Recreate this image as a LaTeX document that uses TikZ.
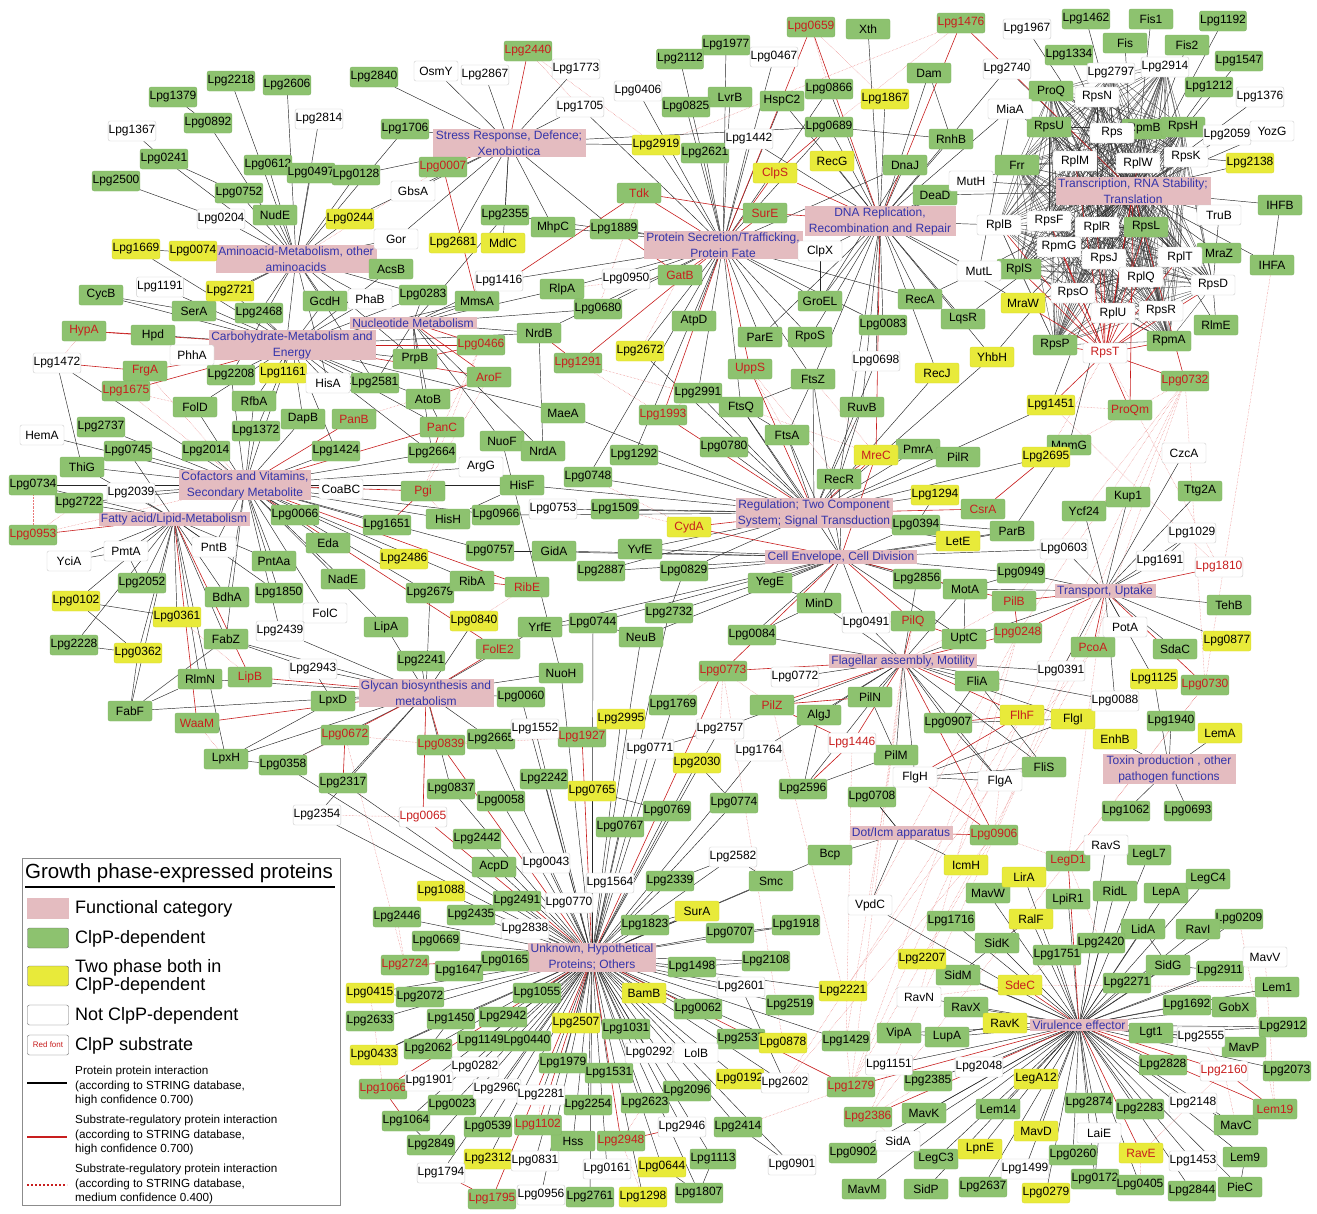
\documentclass[tikz,border=0pt]{standalone}
\usepackage{fontspec}
\setmainfont{Liberation Sans}
\usetikzlibrary{backgrounds}
\definecolor{cgreen}{RGB}{141,194,111}
\definecolor{cgreenb}{RGB}{128,180,100}
\definecolor{cyellow}{RGB}{232,234,58}
\definecolor{cyellowb}{RGB}{215,218,50}
\definecolor{cgray}{RGB}{205,205,205}
\definecolor{cpink}{RGB}{228,188,192}
\definecolor{cblue}{RGB}{52,52,170}
\definecolor{cred}{RGB}{200,30,30}
\definecolor{cpinkline}{RGB}{232,120,120}
\tikzset{
 nbase/.style={rounded corners=2pt, minimum width=44pt, minimum height=20pt, inner xsep=0.5pt, inner ysep=1pt, font=\fontsize{12}{13}\selectfont},
 gn/.style={nbase, fill=cgreen, draw=cgreenb},
 gr/.style={gn, text=cred},
 yn/.style={nbase, fill=cyellow, draw=cyellowb},
 yr/.style={yn, text=cred},
 wn/.style={nbase, fill=white, draw=cgray},
 wr/.style={wn, text=cred},
 cat/.style={fill=cpink, draw=cpink, text=cblue, align=center, font=\fontsize{12}{16}\selectfont, inner xsep=2pt, inner ysep=1pt},
 bl/.style={draw=black!85, line width=0.45pt},
 blt/.style={draw=black!80, line width=0.3pt},
 rd/.style={draw=cred, line width=0.6pt},
 pk/.style={draw=cpinkline, line width=0.45pt, densely dotted},
 legtxt/.style={anchor=west, font=\fontsize{18}{18}\selectfont, inner sep=0pt},
 legsm/.style={anchor=west, font=\fontsize{11.7}{14.5}\selectfont, inner sep=0pt, align=left},
 swatch/.style={rounded corners=2pt, minimum width=41pt, minimum height=20pt, inner sep=0pt, draw=black!60},
}
\begin{document}
\begin{tikzpicture}[x=1pt,y=-1pt]
\useasboundingbox (0,0) rectangle (1317,1213);
% ---------- categories ----------
\node[cat, minimum width=152pt] (catStress) at (509,143) {Stress Response, Defence;\\ Xenobiotica};
\node[cat, minimum width=152pt] (catAmino) at (296,259) {Aminoacid-Metabolism, other\\ aminoacids};
\node[cat, minimum width=122pt] (catNucl) at (413,323) {Nucleotide Metabolism};
\node[cat, minimum width=158pt] (catCarb) at (292,345) {Carbohydrate-Metabolism and\\ Energy};
\node[cat, minimum width=126pt] (catCof) at (245,485) {Cofactors and Vitamins,\\ Secondary Metabolite};
\node[cat, minimum width=146pt] (catFatty) at (174,519) {Fatty acid/Lipid-Metabolism};
\node[cat, minimum width=130pt] (catGlycan) at (426,693) {Glycan biosynthesis and\\ metabolism};
\node[cat, minimum width=152pt] (catProt) at (723,245) {Protein Secretion/Trafficking,\\ Protein Fate};
\node[cat, minimum width=150pt] (catDNA) at (880,221) {DNA Replication,\\ Recombination and Repair};
\node[cat, minimum width=150pt] (catTrans) at (1133,191) {Transcription, RNA Stability;\\ Translation};
\node[cat, minimum width=156pt] (catReg) at (814,513) {Regulation; Two Component\\ System; Signal Transduction};
\node[cat, minimum width=149pt] (catCell) at (841,557) {Cell Envelope, Cell Division};
\node[cat, minimum width=99pt] (catTransp) at (1105,591) {Transport, Uptake};
\node[cat, minimum width=145pt] (catFlag) at (903,661) {Flagellar assembly, Motility};
\node[cat, minimum width=132pt] (catToxin) at (1169,769) {Toxin production , other\\ pathogen functions};
\node[cat, minimum width=99pt] (catDot) at (901,833) {Dot/Icm apparatus};
\node[cat, minimum width=125pt] (catUnk) at (592,957) {Unknown, Hypothetical\\ Proteins; Others};
\node[cat, minimum width=96pt] (catVir) at (1079,1025) {Virulence effector};
% ---------- green, black text ----------
\foreach \n/\x/\y in {Lpg1379/173/97, Lpg2218/231/81, Lpg2606/287/85, Lpg2840/374/77, Xth/868/29, Lpg1462/1086/19, Fis1/1151/19, Lpg1192/1223/21, Lpg1334/1069/55, Fis/1125/43, Fis2/1187/45, Lpg1547/1239/61, Lpg1977/726/45, Lpg2112/680/59, LvrB/730/97, HspC2/782/101, Lpg0866/829/89, Dam/929/73, ProQ/1051/91, Lpg1212/1209/87, Lpg0892/208/123, Lpg0825/686/107, Lpg1706/405/129, Lpg2621/705/153, Lpg0689/829/127, RpsU/1049/127, RpmB/1144/129, RpsH/1183/127, Lpg0241/164/159, Lpg0612/268/165, Lpg0497/311/173, Lpg0128/356/175, RnhB/951/139, Frr/1017/165, Lpg2500/116/181, Lpg0752/239/193, DnaJ/905/165, DeaD/935/195, NudE/275/215, Lpg2355/505/215, RpsL/1146/227, IHFB/1280/205, MhpC/553/227, Lpg1889/614/229, MraZ/1219/253, IHFA/1272/265, RplS/1019/269, AcsB/391/269, CycB/101/295, SerA/194/311, Lpg0283/423/295, MmsA/477/301, RlpA/562/289, RecA/920/299, GroEL/820/301, Hpd/153/335, Lpg2468/259/313, GcdH/325/301, Lpg0680/598/309, AtpD/694/321, Lpg0083/883/325, LqsR/963/319, RlmE/1216/325, NrdB/539/333, ParE/760/337, RpoS/810/337, RpsP/1055/345, RpmA/1169/341, Lpg2208/231/375, Lpg2581/375/383, PrpB/415/359, FtsZ/813/379, FolD/195/407, RfbA/254/401, AtoB/428/399, Lpg2991/698/393, FtsQ/741/407, RuvB/862/407, Lpg2737/101/427, Lpg1372/256/431, DapB/303/419, MaeA/563/413, FtsA/787/435, Lpg0780/724/447, MnmG/1069/445, ThiG/82/467, Lpg0745/128/451, Lpg2014/206/451, Lpg1424/336/451, Lpg2664/432/453, NuoF/502/441, NrdA/543/451, Lpg1292/634/455, PmrA/918/449, PilR/958/457, Lpg0734/33/485, HisF/522/485, Lpg0748/588/477, RecR/839/479, Lpg2722/79/503, Lpg0966/496/515, Lpg1509/615/509, Kup1/1128/497, Ttg2A/1200/491, Ycf24/1084/511, Lpg0066/295/515, HisH/448/519, Lpg1651/387/525, Lpg0394/916/525, Eda/328/543, Lpg0757/490/551, GidA/554/551, YvfE/640/549, ParB/1012/531, Lpg2052/142/583, PntAa/274/561, NadE/343/579, Lpg2679/430/593, RibA/472/581, Lpg2887/601/571, Lpg0829/684/571, YegE/770/583, Lpg2856/917/579, MotA/965/589, Lpg0949/1021/573, TehB/1229/605, BdhA/227/597, Lpg1850/279/593, LipA/386/627, YrfE/540/627, Lpg0744/593/623, Lpg2732/669/613, MinD/819/603, Lpg2228/74/645, FabZ/226/639, NeuB/641/637, Lpg0084/752/635, UptC/964/639, SdaC/1175/649, Lpg2241/421/661, RlmN/200/679, NuoH/561/673, FliA/977/681, FabF/130/711, LpxD/333/701, Lpg0060/521/697, Lpg1769/673/705, AlgJ/819/715, PilN/870/697, Lpg0907/948/723, Lpg1940/1171/721, Lpg2665/491/739, PilM/896/755, LpxH/226/759, Lpg0358/283/765, FliS/1044/767, Lpg2317/343/783, Lpg0837/451/789, Lpg2242/544/779, Lpg2596/803/789, Lpg0708/872/797, Lpg0058/501/801, Lpg0769/667/811, Lpg0774/734/803, Lpg0767/620/827, Lpg1062/1126/811, Lpg0693/1188/811, Lpg2442/477/839, Bcp/830/855, AcpD/494/867, LegL7/1149/855, Lpg2339/670/881, Smc/771/881, MavW/988/893, RidL/1115/891, LepA/1166/893, LegC4/1208/879, Lpg2491/517/901, LpiR1/1068/899, Lpg2446/397/917, Lpg2435/471/915, Lpg1823/645/925, Lpg1918/796/925, Lpg1716/951/921, Lpg0209/1239/919, Lpg0669/436/941, Lpg0707/730/933, LidA/1143/929, RavI/1198/929, Lpg0165/505/961, Lpg2420/1101/943, SidK/997/943, Lpg1647/459/971, Lpg1498/692/967, Lpg2108/766/961, Lpg1751/1057/955, SidM/958/975, SidG/1168/965, Lpg2911/1220/971, Lpg2271/1127/983, Lpg2072/420/997, Lpg1055/537/993, Lem1/1277/987, Lpg0062/698/1009, Lpg2519/790/1005, RavX/966/1007, Lpg1692/1187/1005, GobX/1234/1007, Lpg2633/370/1021, Lpg1450/451/1019, Lpg2942/503/1017, Lpg1031/626/1029, Lpg2912/1283/1027, VipA/899/1033, LupA/947/1037, Lgt1/1151/1033, Lpg2062/428/1049, Lpg1149/481/1041, Lpg0440/527/1041, Lpg2537/741/1039, Lpg1429/846/1041, MavP/1244/1047, Lpg1979/563/1063, Lpg2828/1163/1065, Lpg2073/1287/1071, Lpg1531/609/1073, Lpg2385/928/1081, Lpg2096/687/1091, Lpg2874/1089/1103, Lpg2283/1140/1109, Lpg0023/452/1105, Lpg2254/588/1105, Lpg2623/645/1103, Lem14/998/1109, Lpg1064/406/1121, Lpg0539/488/1127, Lpg2414/738/1127, MavK/924/1113, MavC/1236/1125, Lpg2849/431/1145, Hss/573/1141, Lpg1113/713/1159, Lpg0902/853/1153, LegC3/936/1159, Lpg0260/1073/1155, Lem9/1245/1157, Lpg0172/1095/1179, Lpg0405/1140/1185, MavM/864/1189, SidP/926/1189, Lpg2637/983/1187, Lpg2844/1192/1191, PieC/1240/1187, Lpg2761/590/1197, Lpg1807/699/1193}
  \node[gn] (\n) at (\x,\y) {\n};
% ---------- green, red text ----------
\foreach \n/\x/\y in {Lpg2440/528/51, Lpg0659/811/27, Lpg1476/961/23, Lpg0007/443/167, Tdk/639/193, SurE/765/213, GatB/680/275, HypA/84/331, Lpg0466/481/345, FrgA/145/371, Lpg1675/126/391, AroF/489/377, Lpg1291/578/363, UppS/750/369, ProQm/1130/410, Lpg0732/1185/381, PanB/354/419, PanC/442/427, Lpg1993/663/415, Pgi/423/491, CsrA/983/509, Lpg0953/33/535, RibE/527/587, PilB/1014/601, PilQ/913/621, Lpg0248/1018/633, PcoA/1093/647, FolE2/498/649, LipB/250/677, Lpg0773/723/671, Lpg0730/1205/685, PilZ/772/705, WaaM/197/723, Lpg0672/345/735, Lpg0839/441/745, Lpg1927/582/737, Lpg0906/994/835, LegD1/1068/861, Lpg2724/405/965, Lpg1279/851/1087, Lpg1066/383/1089, Lem19/1275/1109, Lpg1102/538/1125, Lpg2386/868/1117, Lpg2948/621/1141, Lpg1795/492/1199}
  \node[gr] (\n) at (\x,\y) {\n};
% ---------- yellow ----------
\foreach \n/\x/\y in {Lpg1867/885/99, Lpg2919/656/145, RecG/832/161, Lpg2138/1250/163, Lpg0244/350/219, Lpg1669/136/249, Lpg0074/193/251, Lpg2681/453/243, MdlC/503/243, Lpg2721/230/291, MraW/1023/303, Lpg1161/283/373, Lpg2672/640/351, RecJ/937/373, YhbH/992/357, Lpg1451/1051/405, Lpg2695/1046/457, Lpg1294/935/495, Lpg2486/404/559, LetE/958/541, Lpg0102/76/601, Lpg0361/177/617, Lpg0840/474/621, Lpg0877/1227/641, Lpg0362/138/653, Lpg1125/1154/679, Lpg2995/621/719, FlgI/1073/719, LemA/1220/733, EnhB/1115/739, Lpg2030/697/763, Lpg0765/592/791, IcmH/966/865, Lpg1088/441/891, LirA/1024/877, SurA/697/911, RalF/1031/919, Lpg2207/922/959, Lpg0415/370/993, BamB/644/993, Lpg2221/843/991, Lpg2507/576/1023, RavK/1005/1023, Lpg0878/783/1043, Lpg0433/374/1055, Lpg0192/740/1079, LegA12/1036/1079, MavD/1036/1131, Lpg2312/488/1159, Lpg0644/662/1167, LpnE/980/1149, Lpg0279/1046/1193, Lpg1298/643/1197}
  \node[yn] (\n) at (\x,\y) {\n};
\foreach \n/\x/\y in {ClpS/775/173, MreC/876/455, CydA/689/527, FlhF/1022/715, SdeC/1020/985, RavE/1141/1153}
  \node[yr] (\n) at (\x,\y) {\n};
% ---------- white ----------
\foreach \n/\x/\y in {OsmY/436/71, Lpg2867/485/75, Lpg1773/576/69, Lpg1967/1027/29, Lpg2797/1111/73, Lpg2914/1165/67, Lpg0467/774/57, Lpg0406/638/91, Lpg2740/1007/69, RpsN/1097/97, Lpg1376/1260/97, Lpg1367/132/131, Lpg2814/319/119, Lpg1705/580/107, Lpg1442/749/139, MiaA/1010/109, Rps/1112/133, Lpg2059/1227/135, YozG/1272/131, RplM/1075/161, RplW/1138/163, RpsK/1186/157, GbsA/413/191, MutH/971/181, Lpg0204/221/219, RplB/999/225, RpsF/1049/221, RplR/1097/227, TruB/1219/215, Gor/396/239, ClpX/820/251, RpmG/1059/247, RpsJ/1104/259, RplT/1180/257, MutL/979/271, RplQ/1141/277, Lpg1191/160/287, Lpg1416/499/281, PhaB/370/299, Lpg0950/626/279, RpsD/1213/285, RpsO/1073/293, RplU/1113/313, RpsR/1161/311, PhhA/192/355, Lpg1472/57/363, Lpg0698/876/361, HisA/328/383, HemA/42/435, ArgG/481/467, CzcA/1184/453, CoaBC/341/489, Lpg2039/131/493, Lpg0753/553/509, Lpg1029/1192/533, YciA/69/561, PmtA/126/551, PntB/214/547, Lpg0603/1064/549, Lpg1691/1160/561, FolC/325/613, Lpg0491/866/623, PotA/1125/627, Lpg2439/280/631, Lpg2943/313/669, Lpg0772/795/677, Lpg0391/1061/671, Lpg0088/1115/701, Lpg1552/535/729, Lpg2757/720/729, Lpg0771/650/749, Lpg1764/759/751, FlgH/915/777, FlgA/1000/781, Lpg2354/317/815, RavS/1106/845, Lpg2582/733/857, Lpg0043/546/863, Lpg1564/610/883, Lpg0770/569/903, VpdC/870/905, Lpg2838/525/929, MavV/1265/957, Lpg2601/741/987, RavN/919/997, Lpg2555/1201/1037, Lpg0292/649/1053, LolB/696/1053, Lpg0282/475/1067, Lpg1151/889/1065, Lpg2048/979/1067, Lpg1901/429/1081, Lpg2602/785/1083, Lpg2960/497/1089, Lpg2148/1193/1103, Lpg2281/541/1095, Lpg2946/682/1127, LaiE/1099/1133, SidA/898/1141, Lpg0831/535/1161, Lpg0901/792/1165, Lpg1499/1025/1169, Lpg1453/1193/1161, Lpg0161/607/1169, Lpg1794/441/1173, Lpg0956/541/1195}
  \node[wn] (\n) at (\x,\y) {\n};
\foreach \n/\x/\y in {RpsT/1105/353, Lpg1810/1219/567, Lpg0065/423/817, Lpg1446/852/743, Lpg2160/1224/1071}
  \node[wr] (\n) at (\x,\y) {\n};
% ---------- edges ----------
\begin{pgfonlayer}{background}
\fill[white] (0,0) rectangle (1317,1213);
% medium confidence (pink dotted)
\foreach \a/\b in {Lpg1279/catFlag, Lpg1279/Lpg0906, Lpg1279/FlhF, Lpg1279/Lpg0248, Lpg2386/catTransp, Lpg2386/Lpg0730, Lpg1429/Lpg1446, Lpg1429/PilQ, Lpg2221/PilZ, Lpg2221/PcoA, Lpg0878/Lpg0773, Lpg2602/FlhF, Lpg2602/Lpg0906, VpdC/catFlag, VpdC/Lpg0248, RavN/Lpg0248, RavN/SdeC, Lpg2207/PcoA, LegD1/Lpg0730, LegD1/catTransp, LegD1/Lpg0906, Lpg0906/Lpg0732, FlhF/Lpg0732, Lpg0248/Lpg0732, PcoA/Lpg0732, PilB/Lpg0732, Lpg1810/RpsT, Lpg0730/IHFA, Lpg0730/Lpg0732, Lpg2160/Lpg2555, RavE/Lpg2160, RavE/Lpg0405, Lpg0953/catCof, Lpg0953/Lpg2722, Lpg0953/Lpg0734, Lpg1675/catCof, Lpg1675/FolD, Lpg0466/PanC, Lpg0466/Pgi, AroF/Pgi, AroF/PanB, Lpg1291/Lpg1993, Lpg1291/FtsQ, UppS/FtsA, UppS/RecR, Lpg0659/Lpg0866, Lpg0659/Lpg1867, Lpg1476/Lpg2919, Lpg1476/Lpg0689, Lpg2440/Lpg1705, Lpg2440/Lpg2919, Lpg0007/catAmino, Tdk/Lpg0680, GatB/RlpA, GatB/Lpg2672, Lpg0839/Lpg2665, Lpg1927/Lpg0839, Lpg0065/catGlycan, Lpg0065/Lpg2354, Lpg2724/Lpg2446, Lpg2724/Lpg0672, Lpg1102/Lpg2281, Lpg1795/Lpg0956, Lpg2948/Lpg2623, Lpg1066/Lpg0415, Lem19/MavV, Lem19/Lpg0209, SdeC/Lpg1751, SdeC/Lem1, RavE/LaiE, Lpg2386/Lpg2385, Lpg1279/Lpg1429, PilZ/PilN, Lpg1446/PilM, CsrA/Lpg2695, MreC/FtsQ, MreC/FtsZ, CydA/Lpg1509, CydA/Lpg0748, PilQ/Lpg0491, PilB/catFlag, ProQm/Lpg1451, Lpg0732/MnmG, Lpg0773/Lpg1769, Lpg0773/Lpg2757, Lpg1993/Lpg2991, PanC/Lpg2664, Pgi/HisH, RibE/Lpg0840, FolE2/YrfE, LipB/Lpg0361, WaaM/LpxH, Lpg0672/Lpg0358, FrgA/catCof, HypA/Lpg1472, Lpg2948/Lpg1298, Lpg1102/Lpg0539, Lpg1279/Lpg2414, Lpg2386/SidA, LegD1/Lpg2420, Lpg1810/Lpg1451, RpsT/Lpg2695, Lpg0906/FlgA, Lpg1446/Lpg2596, Lpg0773/PilZ, Lpg0839/Lpg0672, Lpg2160/MavC}
  \draw[pk] (\a) -- (\b);
% stress
\foreach \n in {OsmY, Lpg2867, Lpg1773, Lpg2840, Lpg1705, Lpg1706, GbsA, Lpg2355, MhpC, Lpg0128, Lpg0244, Lpg2681, MdlC, Gor, Lpg2919, Lpg0689, Lpg1889}
  \draw[bl] (catStress) -- (\n);
% amino
\foreach \n in {Lpg2218, Lpg2606, Lpg0892, Lpg2814, Lpg0241, Lpg0612, Lpg0497, Lpg0128, Lpg0752, Lpg0204, NudE, Lpg0244, Gor, Lpg0074, Lpg1669, Lpg2721, SerA, GcdH, AcsB, PhaB, Lpg2468, Lpg0283, Lpg1161, HisA, Lpg2581, PrpB, Lpg2208, Lpg1706}
  \draw[bl] (catAmino) -- (\n);
% carbohydrate
\foreach \n in {CycB, SerA, Hpd, PhhA, Lpg2468, Lpg2721, GcdH, PhaB, AcsB, Lpg0283, MmsA, PrpB, Lpg2581, HisA, Lpg1161, Lpg2208, FolD, RfbA, Lpg1372, DapB, AtoB, Lpg1191, Lpg1669, MaeA, NrdB, PanC, Lpg2664, Lpg1424}
  \draw[bl] (catCarb) -- (\n);
% nucleotide
\foreach \n in {NrdB, NrdA, Lpg2581, PrpB, AtoB, Lpg0283, MmsA, Lpg1416, Lpg2355, RlpA, Lpg0680, Lpg2664, NuoF}
  \draw[bl] (catNucl) -- (\n);
% cofactors
\foreach \n in {FolD, RfbA, Lpg1372, DapB, Lpg2014, Lpg0745, Lpg2737, ThiG, HemA, Lpg0734, Lpg2039, Lpg2722, CoaBC, Lpg1424, Lpg0066, PntAa, Eda, PntB, BdhA, Lpg1850, Lpg2439, FolC, NadE, Lpg1651, Lpg2486, HisH, Lpg0966, HisF, ArgG, Lpg2664, RibA, Lpg2679, Lpg0757, FabZ, LipA, Lpg2208, Lpg1161, Lpg1472}
  \draw[bl] (catCof) -- (\n);
% fatty acid
\foreach \n in {Lpg2722, Lpg2039, PmtA, YciA, PntB, Lpg2052, Lpg0102, Lpg0361, Lpg0362, Lpg2228, FabZ, FabF, RlmN, BdhA, LpxH, Lpg0734, ThiG, Lpg0745, Lpg1850, PntAa}
  \draw[bl] (catFatty) -- (\n);
% glycan
\foreach \n in {Lpg2943, LpxD, LpxH, Lpg0358, Lpg2317, Lpg2241, Lpg2439, LipA, Lpg0840, Lpg2665, Lpg0060, NuoH, YrfE, Lpg2679, FabZ, FabF, RlmN, Lpg0837, Lpg2354}
  \draw[bl] (catGlycan) -- (\n);
% protein fate
\foreach \n in {Lpg2112, Lpg1977, Lpg0467, LvrB, HspC2, Lpg0825, Lpg0406, Lpg1705, Lpg2919, Lpg2621, Lpg1442, Lpg0866, Lpg0689, ClpX, Lpg0950, Lpg1889, MhpC, Lpg2355, RlpA, Lpg0680, AtpD, GroEL, ParE, RpoS, Lpg2672, FtsQ, Lpg2991, Lpg1416, DnaJ, RecA, Lpg0083, FtsZ, Lpg1292, Lpg0748, NrdB}
  \draw[bl] (catProt) -- (\n);
% DNA
\foreach \n in {Xth, Dam, Lpg1867, HspC2, Lpg0866, Lpg0689, RecG, DnaJ, RnhB, DeaD, MutH, MiaA, RplB, MutL, RecA, GroEL, LqsR, Lpg0083, Lpg0698, RecJ, RuvB, RpoS, ParE, ClpX, MraW, YhbH, Frr, RecR, Lpg2740, Lpg1442, FtsZ}
  \draw[bl] (catDNA) -- (\n);
% transcription / translation
\foreach \n in {Lpg1967, Lpg1462, Fis1, Lpg1192, Lpg1334, Fis, Lpg2797, Fis2, Lpg2914, Lpg1547, Lpg2740, ProQ, RpsN, Lpg1212, Lpg1376, MiaA, RpsU, Rps, RpmB, RpsH, Lpg2059, YozG, Lpg2138, Frr, RplM, RplW, RpsK, TruB, IHFB, IHFA, MraZ, RplT, RplQ, RpsJ, RplR, RpsL, RpsF, RplB, RpmG, RplS, MutL, RpsO, RplU, RpsR, RpsD, RlmE, RpmA, RpsP, MraW, YhbH, DeaD, MutH, Lpg1451, MnmG, LqsR}
  \draw[bl] (catTrans) -- (\n);
\def\ribo{RpsU,Rps,RpmB,RpsH,RplM,RplW,RpsK,Frr,RplB,RpsF,RplR,RpsL,RpmG,RpsJ,RplT,RplQ,RplS,RpsO,RplU,RpsR,RpsD,RpmA,RpsP,RpsN,ProQ,Lpg2797,Lpg2914}
\foreach \a [count=\i] in \ribo {
  \foreach \b [count=\j] in \ribo {
    \ifnum\j>\i \draw[blt] (\a) -- (\b); \fi
  }
}
\foreach \n in {RplS, RpsO, RplU, RpsR, RpmA, RpsP, RpsJ, RplQ, RpmG, RplR, RpsF, RplB, RpsL, Lpg0732, ProQm, MraW, RpsD, Lpg1451, RplM, RplW, RplT, catTrans}
  \draw[rd] (RpsT) -- (\n);
% regulation
\foreach \n in {FtsA, FtsQ, FtsZ, Lpg0780, Lpg1292, Lpg0748, Lpg1509, YvfE, RecR, PmrA, PilR, Lpg1294, Lpg0394, LetE, Lpg2695, Lpg1451, Lpg2991, RuvB, Lpg0829, Lpg2887, Lpg0753, Lpg0698, RecJ, YhbH, ParB, Lpg0966, HisF, Lpg2672, MaeA}
  \draw[bl] (catReg) -- (\n);
% cell envelope
\foreach \n in {YegE, Lpg2856, MinD, Lpg0084, Lpg2732, Lpg0829, NeuB, Lpg0744, Lpg2887, GidA, YvfE, MotA, Lpg0949, ParB, LetE, Lpg0394, FtsA, FtsZ, FtsQ, Lpg0491, UptC, Lpg0603, Lpg0757, RecR, YrfE}
  \draw[bl] (catCell) -- (\n);
% transport
\foreach \n in {Lpg0603, Lpg1691, TehB, Lpg0877, SdaC, PotA, Lpg1029, Ttg2A, Kup1, Ycf24, CzcA, Lpg0391, Lpg1125, Lpg0088, Lpg0949, MotA, UptC}
  \draw[bl] (catTransp) -- (\n);
% flagellar
\foreach \n in {Lpg0491, UptC, FliA, MotA, Lpg0772, AlgJ, PilN, PilM, Lpg0907, FlgI, FlgH, FlgA, FliS, Lpg1764, Lpg2596, Lpg0391, Lpg2856, MinD, Lpg0084, Lpg0088, Lpg2757}
  \draw[bl] (catFlag) -- (\n);
% toxin, dot/icm
\foreach \n in {EnhB, LemA, Lpg1940, Lpg1062, Lpg0693, Lpg1125}
  \draw[bl] (catToxin) -- (\n);
\foreach \n in {IcmH, Lpg0708, Bcp, VpdC}
  \draw[bl] (catDot) -- (\n);
% unknown
\foreach \n in {Lpg2995, Lpg1552, Lpg2757, Lpg2665, Lpg0771, Lpg1764, Lpg2030, Lpg2317, Lpg0837, Lpg2242, Lpg0765, Lpg2354, Lpg0058, Lpg0769, Lpg0774, Lpg0767, Lpg2442, Lpg2582, Bcp, AcpD, Lpg0043, Lpg1088, Lpg1564, Lpg2339, Smc, Lpg2491, Lpg0770, Lpg2446, Lpg2435, Lpg2838, SurA, Lpg1823, Lpg1918, Lpg0669, Lpg0707, Lpg0165, Lpg1647, Lpg1498, Lpg2108, Lpg0415, Lpg2072, Lpg1055, BamB, Lpg2601, Lpg2221, Lpg0062, Lpg2519, Lpg2633, Lpg1450, Lpg2942, Lpg2507, Lpg1031, Lpg2062, Lpg1149, Lpg0440, Lpg0292, LolB, Lpg2537, Lpg0878, Lpg1429, Lpg0433, Lpg0282, Lpg1979, Lpg1901, Lpg1531, Lpg0192, Lpg2602, Lpg2960, Lpg2096, Lpg0023, Lpg2281, Lpg2254, Lpg2623, Lpg1064, Lpg0539, Lpg2946, Lpg2414, Lpg2849, Hss, Lpg0831, Lpg2312, Lpg0644, Lpg1113, Lpg0161, Lpg1794, Lpg0956, Lpg2761, Lpg1298, Lpg1807, Lpg0060, Lpg1769, Lpg0744, NeuB, Lpg2732, NuoH, Lpg0358, Lpg0901}
  \draw[bl] (catUnk) -- (\n);
% virulence
\foreach \n in {RavS, LegL7, LirA, MavW, RidL, LepA, LegC4, LpiR1, Lpg1716, RalF, Lpg0209, LidA, RavI, Lpg2420, SidK, Lpg2207, Lpg1751, SidM, MavV, SidG, Lpg2911, Lpg2271, Lem1, RavN, RavX, Lpg1692, GobX, RavK, Lpg2912, VipA, LupA, Lgt1, Lpg2555, MavP, Lpg1151, Lpg2048, Lpg2828, Lpg2073, Lpg2385, LegA12, Lpg2874, Lpg2283, Lpg2148, Lem14, MavK, MavD, LaiE, MavC, SidA, Lpg0902, LegC3, LpnE, Lpg1499, Lpg0260, Lpg1453, Lem9, Lpg0172, Lpg0405, MavM, SidP, Lpg2637, Lpg0279, Lpg2844, PieC, VpdC}
  \draw[bl] (catVir) -- (\n);
% extra black
\foreach \a/\b in {Lpg1379/Lpg0892, Lpg1367/Lpg0241, Lpg2500/Lpg0204, Lpg0241/Lpg0752, CycB/SerA, Lpg1472/ThiG, Lpg2228/Lpg0362, Lpg0102/Lpg0361, FabF/Lpg0362, Lpg0102/Lpg0362, VipA/LupA, LupA/RavK, Lgt1/Lpg2912, Lpg2555/MavP, MavC/Lpg2148, Lpg2582/Smc, FlgH/FlgA, FlgH/FliS, FlgA/FliS, Lpg2030/Lpg0774, Lpg0765/Lpg0769, Lpg2339/Lpg2582, SurA/Lpg1823, Lpg0707/Lpg1918, Lpg1498/Lpg2108, Lpg2601/Lpg2602, Lpg0878/Lpg2537, Lpg2414/Lpg0901, Lpg1113/Lpg1807, Lpg0644/Lpg1807, Lpg1901/Lpg0282, Lpg1064/Lpg2849, Lpg2062/Lpg1450, Lpg0433/Lpg1450, Lpg0415/Lpg2072, SidK/SidM, RalF/SidK, LidA/SidG, RavI/Lpg0209, Lpg2911/SidG, Lgt1/Lpg2555, Lem9/PieC, LaiE/Lpg0172, ParB/MnmG, Lpg1029/Lpg1691, FliA/Lpg0907, FliA/FliS, FlgI/FlgH, FlgI/Lpg0907, Lpg0907/FlgA, PilN/PilM, PilM/Lpg2596, Lpg0708/catDot, AlgJ/Lpg2596, Lpg0771/Lpg2757, Lpg0771/Lpg2030, GroEL/ClpX, RecA/MutL, RecA/LqsR, DnaJ/GroEL, DeaD/MutH, Dam/RnhB, Lpg0689/RnhB, MiaA/MutL, IHFB/IHFA, MraZ/MraW, RlmE/RpsD, Lpg2138/RpsK, TruB/RpsD, HisA/Lpg2581, AtoB/PanC, NuoF/NuoH, NrdB/NrdA, HisF/HisH, Lpg0757/GidA, RibA/Lpg2679, YrfE/Lpg0744, NeuB/Lpg0744, Lpg0829/Lpg2732, PmrA/PilR, RecR/RuvB, FtsA/FtsQ, FtsA/FtsZ, FtsQ/FtsZ, Lpg1294/Lpg0394, Lpg0394/LetE, LetE/ParB, Lpg0949/MotA, MotA/UptC, Lpg0084/MinD, YegE/MinD, Lpg2052/PmtA, YciA/PmtA, FolC/Lpg2439, LpxD/LpxH, LpxD/Lpg2943, Lpg0358/LpxH, FabZ/Lpg2943, FabZ/FabF, RlmN/FabF}
  \draw[bl] (\a) -- (\b);
% red (substrate, high confidence)
\foreach \a/\b in {Lpg2440/catStress, Lpg0007/catStress, Lpg0007/MmsA, HypA/catCarb, HypA/Hpd, FrgA/catCarb, Lpg1675/catCarb, Lpg1472/FrgA, Lpg0466/catCarb, Lpg0466/catNucl, AroF/catNucl, AroF/catCarb, PanB/catCof, PanC/catCof, Pgi/catCof, RibE/catCof, FolE2/catCof, Lpg0953/catFatty, LipB/catFatty, WaaM/catFatty, WaaM/catGlycan, LipB/catGlycan, Lpg0672/catGlycan, Lpg0839/catGlycan, Lpg0065/catGlycan, FolE2/catGlycan, Lpg0672/Lpg2317, Tdk/catProt, SurE/catProt, ClpS/catProt, GatB/catProt, UppS/catProt, Lpg1291/catProt, Lpg1993/catProt, Lpg0659/catProt, Tdk/SurE, ClpS/Lpg0689, GatB/Lpg1889, Tdk/MmsA, Lpg0659/catDNA, Lpg1476/catDNA, ClpS/catDNA, SurE/catDNA, MreC/catDNA, Lpg1476/catTrans, Lpg0732/catTrans, ProQm/catTrans, CydA/catReg, MreC/catReg, CsrA/catReg, Lpg1993/catReg, UppS/catReg, CydA/catCell, PilQ/catCell, Lpg0773/catCell, MreC/catCell, PilB/catCell, Lpg1810/catTransp, PcoA/catTransp, Lpg0248/catTransp, PilB/catTransp, Lpg0730/catTransp, PilQ/catFlag, Lpg0248/catFlag, Lpg0773/catFlag, PilZ/catFlag, FlhF/catFlag, Lpg1446/catFlag, Lpg0906/catFlag, Lpg0906/catDot, Lpg1927/catUnk, Lpg2724/catUnk, Lpg1066/catUnk, Lpg1102/catUnk, Lpg2948/catUnk, Lpg1795/catUnk, Lpg1279/catUnk, Lpg0839/catUnk, Lpg0773/catUnk, Lpg0065/catUnk, SdeC/catVir, RavE/catVir, Lpg2160/catVir, Lem19/catVir, Lpg2386/catVir, LegD1/catVir, Lpg1279/catVir, Lpg2160/Lem19, Lpg1066/Lpg1064, Lpg1794/Lpg1795, Lpg2948/Lpg2946, PilZ/Lpg1446, PilZ/PilN, Lpg1446/Lpg2596, FlhF/Lpg0907, FlhF/FlgH, Lpg0906/FlgH, Lpg2695/CsrA, PilQ/UptC, Lpg0248/PilB, MreC/RecR, Lpg1291/NrdB, Lpg0466/PrpB, Pgi/Lpg1651, RibE/RibA, PanC/Lpg2664, AroF/AtoB}
  \draw[rd] (\a) -- (\b);
\end{pgfonlayer}
% ---------- legend ----------
\draw[draw=black!45, fill=white, line width=0.6pt] (22,858) rectangle (340,1205);
\node[anchor=west, inner sep=0pt, font=\fontsize{20.5}{22}\selectfont] (legTitle) at (25,873) {Growth phase-expressed proteins};
\draw[line width=2.5pt] (25,887) -- (335,887);
\node[swatch, fill=cpink, draw=cpink, rounded corners=0pt] (swCat) at (48,908) {};
\node[legtxt] (ltCat) at (75,909) {Functional category};
\node[swatch, fill=cgreen] (swG) at (48,938) {};
\node[legtxt] (ltG) at (75,939) {ClpP-dependent};
\node[swatch, fill=cyellow] (swY) at (48,976) {};
\node[legtxt, align=left] (ltY) at (75,977) {Two phase both in\\ClpP-dependent};
\node[swatch, fill=white] (swW) at (48,1015) {};
\node[legtxt] (ltW) at (75,1016) {Not ClpP-dependent};
\node[swatch, fill=white, text=cred, font=\fontsize{8}{9}\selectfont] (swR) at (48,1045) {Red font};
\node[legtxt] (ltR) at (75,1046) {ClpP substrate};
\coordinate (lkA) at (27,1083); \coordinate (lkB) at (67,1083);
\draw[line width=2pt, black] (lkA) -- (lkB);
\node[legsm] (ltK) at (75,1086) {Protein protein interaction\\(according to STRING database,\\high confidence 0.700)};
\coordinate (lrA) at (27,1137); \coordinate (lrB) at (67,1137);
\draw[line width=2pt, cred] (lrA) -- (lrB);
\node[legsm] (ltRd) at (75,1135) {Substrate-regulatory protein interaction\\(according to STRING database,\\high confidence 0.700)};
\coordinate (ldA) at (27,1185); \coordinate (ldB) at (67,1185);
\draw[line width=2pt, cred, dotted] (ldA) -- (ldB);
\node[legsm] (ltD) at (75,1184) {Substrate-regulatory protein interaction\\(according to STRING database,\\medium confidence 0.400)};
\end{tikzpicture}
\end{document}
